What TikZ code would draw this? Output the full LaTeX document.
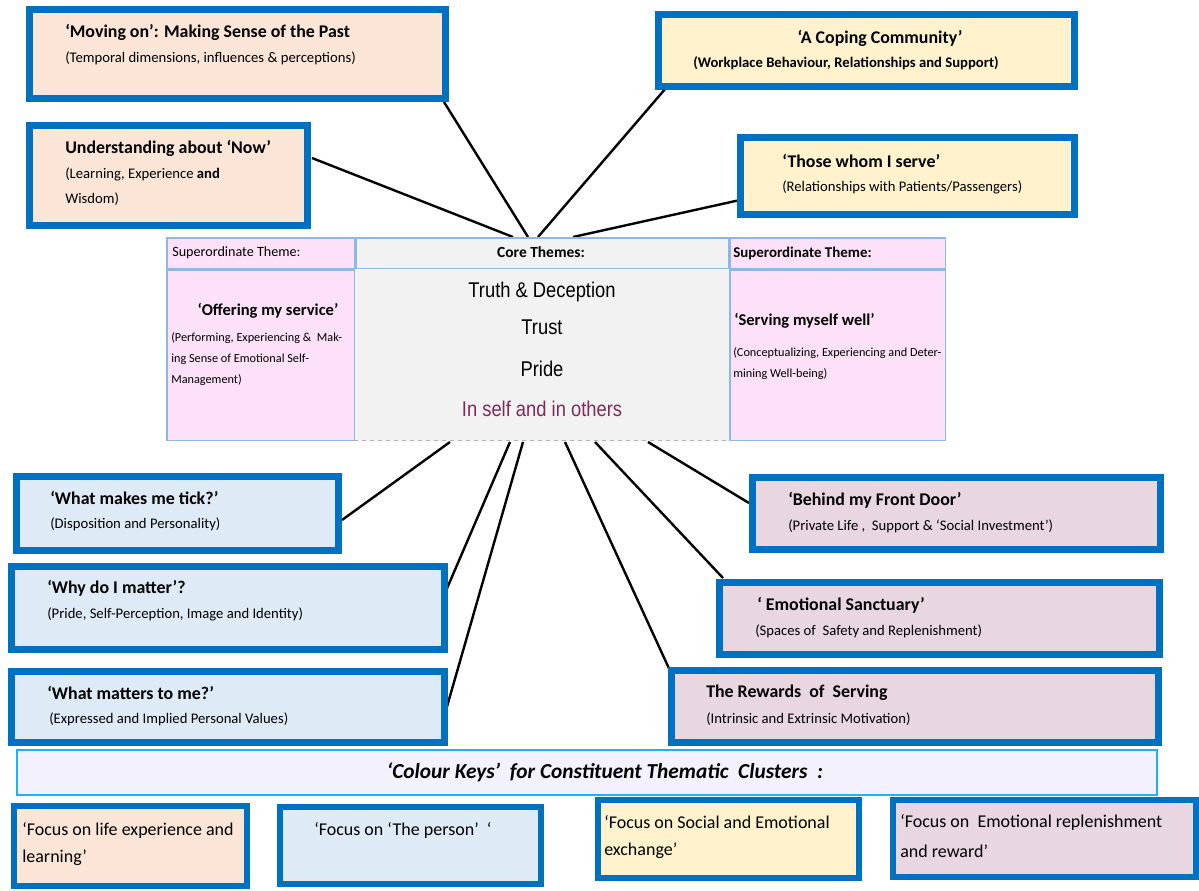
\documentclass[tikz,border=0pt]{standalone}
\usepackage{fontspec}
\setmainfont{Carlito}
\newfontfamily\arialfont[FakeStretch=0.86]{Liberation Sans}
\definecolor{frame}{HTML}{0070C0}
\definecolor{peach}{HTML}{FBE5D6}
\definecolor{paleblue}{HTML}{DEEBF7}
\definecolor{cream}{HTML}{FFF2CC}
\definecolor{mauve}{HTML}{E8D6E0}
\definecolor{tablepink}{HTML}{FDE1F8}
\definecolor{tablegrey}{HTML}{F2F2F2}
\definecolor{tableline}{HTML}{8DB8E2}
\definecolor{bannerfill}{HTML}{F3F1FD}
\definecolor{bannerline}{HTML}{1FB3EE}
\definecolor{maroon}{HTML}{7E2A58}

% box by its outer edges: name, style, fill, x1, y1, x2, y2, border width (all in px)
\newcommand\mkbox[8]{%
  \node[#2, line width=#8*0.75pt, fill=#3,
        minimum width={(#6-#4-#8)*0.75pt}, minimum height={(#7-#5-#8)*0.75pt},
        inner sep=0pt, outer sep=0pt] (#1) at ({(#4+#6)/2},{(#5+#7)/2}) {};}

\begin{document}
\begin{tikzpicture}[x=0.75pt,y=-0.75pt,
  panel/.style={draw=frame, rectangle},
  cell/.style={draw=tableline, rectangle},
  title/.style={anchor=west, inner sep=0pt, font=\fontsize{13.4}{15}\selectfont\bfseries},
  sub/.style={anchor=west, inner sep=0pt, font=\fontsize{11}{13}\selectfont},
  small/.style={anchor=west, inner sep=0pt, font=\fontsize{9.2}{11}\selectfont},
  core/.style={inner sep=0pt, font=\arialfont\fontsize{16}{18}\selectfont},
  keytext/.style={anchor=west, inner sep=0pt, font=\fontsize{13.5}{15}\selectfont},
  link/.style={line width=2.4*0.75pt, black}]
\useasboundingbox (0,0) rectangle (1199,890);

% ---- connector end points ----
\coordinate (hubA) at (528,237);
\coordinate (hubB) at (513,237);
\coordinate (hubC) at (538,237);
\coordinate (hubD) at (573,237);
\coordinate (hubE) at (450,442);
\coordinate (hubF) at (510,442);
\coordinate (hubG) at (523,442);
\coordinate (hubH) at (565,442);
\coordinate (hubI) at (595,442);
\coordinate (hubJ) at (648,442);
\coordinate (endMoving) at (444,102);
\coordinate (endNow) at (312,158);
\coordinate (endCoping) at (672,81);
\coordinate (endServe) at (740,200);
\coordinate (endTick) at (342,520);
\coordinate (endWhy) at (445,593);
\coordinate (endMatters) at (446,710);
\coordinate (endRewards) at (672,675);
\coordinate (endSanctuary) at (723,578);
\coordinate (endDoor) at (749,503);

% ---- connectors ----
\draw[link] (endMoving) -- (hubA);
\draw[link] (endNow) -- (hubB);
\draw[link] (endCoping) -- (hubC);
\draw[link] (endServe) -- (hubD);
\draw[link] (endTick) -- (hubE);
\draw[link] (endWhy) -- (hubF);
\draw[link] (endMatters) -- (hubG);
\draw[link] (endRewards) -- (hubH);
\draw[link] (endSanctuary) -- (hubI);
\draw[link] (endDoor) -- (hubJ);

% ---- theme panels ----
\mkbox{moving}{panel}{peach}{26}{6}{449}{102}{7}
\mkbox{now}{panel}{peach}{26}{122}{311}{229}{7}
\mkbox{coping}{panel}{cream}{655}{11}{1078}{90}{7}
\mkbox{serve}{panel}{cream}{737}{134}{1078}{218}{7}
\mkbox{tick}{panel}{paleblue}{13}{473}{342}{554}{7}
\mkbox{why}{panel}{paleblue}{8}{563}{448}{653}{7}
\mkbox{matters}{panel}{paleblue}{8}{668}{448}{746}{7}
\mkbox{door}{panel}{mauve}{749}{474}{1164}{553}{7}
\mkbox{sanctuary}{panel}{mauve}{716}{579}{1163}{658}{7}
\mkbox{rewards}{panel}{mauve}{668}{667}{1162}{746}{7}

\node[title] (tMoving) at (65,32) {‘Moving on’: Making Sense of the Past};
\node[sub] (sMoving) at (65,58) {(Temporal dimensions, influences \& perceptions)};
\node[title] (tNow) at (65,148) {Understanding about ‘Now’};
\node[sub] (sNow1) at (65,174) {(Learning, Experience \textbf{and}};
\node[sub] (sNow2) at (65,199) {Wisdom)};
\node[title, anchor=center] (tCoping) at (880,38) {‘A Coping Community’};
\node[sub, font=\fontsize{11}{13}\selectfont\bfseries] (sCoping) at (693,63) {(Workplace Behaviour, Relationships and Support)};
\node[title] (tServe) at (782,161) {‘Those whom I serve’};
\node[sub] (sServe) at (782,187) {(Relationships with Patients/Passengers)};
\node[title] (tTick) at (50,498) {‘What makes me tick?’};
\node[sub] (sTick) at (50,524) {(Disposition and Personality)};
\node[title] (tWhy) at (47,588) {‘Why do I matter’?};
\node[sub] (sWhy) at (47,614) {(Pride, Self-Perception, Image and Identity)};
\node[title] (tMatters) at (47,693) {‘What matters to me?’};
\node[sub] (sMatters) at (49,719) {(Expressed and Implied Personal Values)};
\node[title] (tDoor) at (788,500) {‘Behind my Front Door’};
\node[sub] (sDoor) at (788,526) {(Private Life ,\ \ Support \& ‘Social Investment’)};
\node[title] (tSanctuary) at (757,605) {‘ Emotional Sanctuary’};
\node[sub] (sSanctuary) at (755,631) {(Spaces of\ \ Safety and Replenishment)};
\node[title] (tRewards) at (706,693) {The Rewards\ \ of\ \ Serving};
\node[sub] (sRewards) at (706,719) {(Intrinsic and Extrinsic Motivation)};

% ---- central table ----
\mkbox{hdLeft}{cell}{tablepink}{166}{237}{355}{269}{1.5}
\mkbox{hdMid}{cell}{tablegrey}{355}{237}{729}{269}{1.5}
\mkbox{hdRight}{cell}{tablepink}{729}{237}{946}{269}{1.5}
\mkbox{bdLeft}{cell}{tablepink}{166}{269}{355}{441}{1.5}
\node[fill=tablegrey, inner sep=0pt, minimum width=373*0.75pt, minimum height=171*0.75pt] (bdMid) at (542,355) {};
\mkbox{bdRight}{cell}{tablepink}{729}{269}{946}{441}{1.5}
\draw[gray!60, dashed, line width=0.8pt] (bdLeft.south east) -- (bdRight.south west);

\node[sub, font=\fontsize{10.6}{12}\selectfont] (hLeft) at (172,253) {Superordinate Theme:};
\node[sub, anchor=center, font=\fontsize{11.6}{13}\selectfont\bfseries] (hMid) at (541,252) {Core Themes:};
\node[sub, font=\fontsize{11.2}{13}\selectfont\bfseries] (hRight) at (733,253) {Superordinate Theme:};

\node[core] (cTruth) at (542,292) {Truth \& Deception};
\node[core] (cTrust) at (542,327) {Trust};
\node[core] (cPride) at (542,369) {Pride};
\node[core, text=maroon] (cSelf) at (542,409) {In self and in others};

\node[title, anchor=center, font=\fontsize{12.4}{14}\selectfont\bfseries] (tOffer) at (268,311) {‘Offering my service’};
\node[small] (sOffer1) at (171,338) {(Performing, Experiencing \&\ \ Mak-};
\node[small] (sOffer2) at (171,359) {ing Sense of Emotional Self-};
\node[small] (sOffer3) at (171,380) {Management)};
\node[title, font=\fontsize{12.4}{14}\selectfont\bfseries] (tWell) at (734,321) {‘Serving myself well’};
\node[small] (sWell1) at (733,353) {(Conceptualizing, Experiencing and Deter-};
\node[small] (sWell2) at (733,374) {mining Well-being)};

% ---- colour key ----
\mkbox{banner}{draw=bannerline, rectangle}{bannerfill}{16}{749}{1158}{796}{2}
\node[inner sep=0pt, font=\fontsize{16}{18}\selectfont\bfseries\itshape] (bannerText) at (605,772) {‘Colour Keys’\ \ for Constituent Thematic\ \ Clusters\ \ :};

\mkbox{keyA}{panel}{peach}{11}{803}{250}{889}{6}
\mkbox{keyB}{panel}{paleblue}{277}{804}{544}{887}{6}
\mkbox{keyC}{panel}{cream}{595}{797}{862}{881}{6}
\mkbox{keyD}{panel}{mauve}{890}{797}{1199}{880}{6}

\node[keytext] (kA1) at (22,830) {‘Focus on life experience and};
\node[keytext] (kA2) at (22,858) {learning’};
\node[keytext] (kB) at (314,830) {‘Focus on ‘The person’\ \ ‘};
\node[keytext] (kC1) at (604,822) {‘Focus on Social and Emotional};
\node[keytext] (kC2) at (604,851) {exchange’};
\node[keytext] (kD1) at (900,822) {‘Focus on\ \ Emotional replenishment};
\node[keytext] (kD2) at (900,851) {and reward’};
\end{tikzpicture}
\end{document}
